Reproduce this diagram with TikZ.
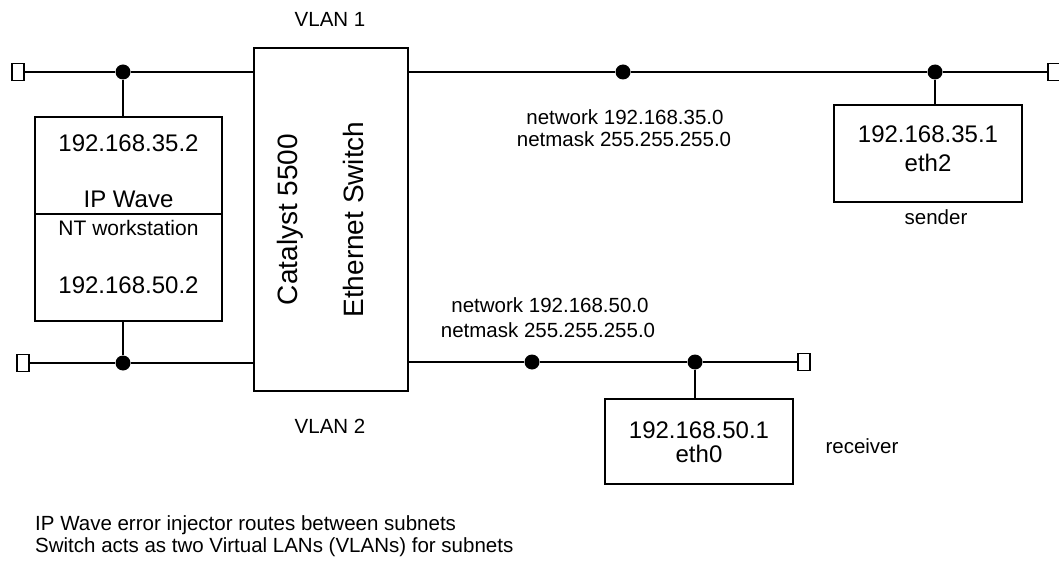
\documentclass[tikz,border=0pt]{standalone}
\usepackage{fontspec}
\setmainfont{Liberation Sans}
\usepackage{tikz}
\tikzset{every node/.style={inner sep=0pt}}
\colorlet{linecol}{black}
\colorlet{textcol}{black}
\tikzset{
  hostbox/.style={draw=linecol, line width=1.8pt},
  wire/.style={draw=linecol, line width=1.6pt},
  junction/.style={circle, fill=linecol, minimum size=15pt},
  termbox/.style={draw=linecol, line width=1.4pt, fill=white,
    minimum width=12pt, minimum height=17pt},
  bigtxt/.style={text=textcol, font=\fontsize{24}{28}\selectfont},
  swtxt/.style={text=textcol, font=\fontsize{28}{32}\selectfont},
  midtxt/.style={text=textcol, font=\fontsize{21}{24}\selectfont},
  smalltxt/.style={text=textcol, font=\fontsize{20.5}{24}\selectfont},
}

\begin{document}
\begin{tikzpicture}[x=1pt, y=-1pt]
  \useasboundingbox (0,0) rectangle (1059,561);

  % Boxes.
  \node[hostbox, minimum width=187pt, minimum height=204pt] (ipwave) at (128.5,219) {};
  \node[hostbox, minimum width=154pt, minimum height=343pt] (switch) at (331,219.5) {};
  \node[hostbox, minimum width=188pt, minimum height=97pt] (sender) at (928,153.5) {};
  \node[hostbox, minimum width=188pt, minimum height=85pt] (receiver) at (699,441.5) {};

  % IP Wave box: divider between the two halves.
  \coordinate (cut) at (0,214);
  \draw[hostbox] (ipwave.west |- cut) -- (ipwave.east |- cut);

  % Junctions on the two LAN segments.
  \node[junction] (jtl) at (123,72) {};
  \node[junction] (jbl) at (123,363) {};
  \node[junction] (jnet1) at (623,72) {};
  \node[junction] (jsend) at (935,72) {};
  \node[junction] (jnet2) at (532,362) {};
  \node[junction] (jrecv) at (695,362) {};

  % Line terminators.
  \node[termbox] (ttl) at (18,72) {};
  \node[termbox] (tbl) at (23,363) {};
  \node[termbox] (ttr) at (1054,72) {};
  \node[termbox] (tbr) at (804,362) {};

  % VLAN 1 segment.
  \draw[wire] (ttl) -- (jtl) -- (switch.west |- jtl);
  \draw[wire] (switch.east |- jnet1) -- (jnet1) -- (jsend) -- (ttr);
  \draw[wire] (jtl) -- (jtl |- ipwave.north);
  \draw[wire] (jsend) -- (jsend |- sender.north);

  % VLAN 2 segment.
  \draw[wire] (tbl) -- (jbl) -- (switch.west |- jbl);
  \draw[wire] (switch.east |- jnet2) -- (jnet2) -- (jrecv) -- (tbr);
  \draw[wire] (jbl) -- (jbl |- ipwave.south);
  \draw[wire] (jrecv) -- (jrecv |- receiver.north);

  % IP Wave labels.
  \node[bigtxt, anchor=base] (ipup) at (128.5,152) {192.168.35.2};
  \node[bigtxt, anchor=base] (ipname) at (128.5,208) {IP Wave};
  \node[midtxt, anchor=base] (ipnt) at (128.5,236) {NT workstation};
  \node[bigtxt, anchor=base] (iplow) at (128.5,293) {192.168.50.2};

  % Switch labels.
  \node[swtxt, rotate=90, anchor=base] (swname) at (297,219.5) {Catalyst 5500};
  \node[swtxt, rotate=90, anchor=base] (swtype) at (363,219.5) {Ethernet Switch};
  \node[smalltxt, anchor=base] (vlan1) at (330,27) {VLAN 1};
  \node[smalltxt, anchor=base] (vlan2) at (330,433) {VLAN 2};

  % Sender host.
  \node[bigtxt, anchor=base] (sendip) at (928,143) {192.168.35.1};
  \node[bigtxt, anchor=base] (sendif) at (928,172) {eth2};
  \node[smalltxt, anchor=base] (sendlbl) at (936,225) {sender};

  % Receiver host.
  \node[bigtxt, anchor=base] (recvip) at (699,438) {192.168.50.1};
  \node[bigtxt, anchor=base] (recvif) at (699,462) {eth0};
  \node[smalltxt, anchor=base] (recvlbl) at (862,453) {receiver};

  % Subnet labels.
  \node[smalltxt, anchor=base] (net1) at (625,125) {network 192.168.35.0};
  \node[smalltxt, anchor=base] (mask1) at (624,147) {netmask 255.255.255.0};
  \node[smalltxt, anchor=base] (net2) at (550,312) {network 192.168.50.0};
  \node[smalltxt, anchor=base] (mask2) at (548,337) {netmask 255.255.255.0};

  % Notes.
  \node[smalltxt, anchor=base west] (note1) at (35,530) {IP Wave error injector routes between subnets};
  \node[smalltxt, anchor=base west] (note2) at (35,552) {Switch acts as two Virtual LANs (VLANs) for subnets};

\end{tikzpicture}
\end{document}
